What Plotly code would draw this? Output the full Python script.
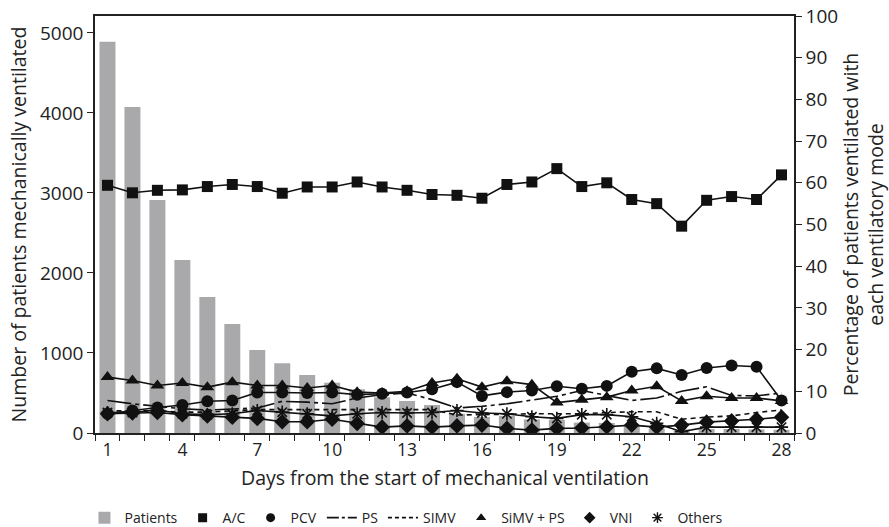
import plotly.graph_objects as go

days = list(range(1, 29))
patients = [4890, 4075, 2912, 2162, 1700, 1362, 1037, 871, 725, 629, 546, 446, 400, 350,
            240, 200, 215, 170, 165, 130, 125, 95, 55, 45, 50, 50, 45, 40]
ac = [59.4, 57.6, 58.2, 58.3, 59.1, 59.6, 59.1, 57.5, 59.0, 59.0, 60.2, 59.0, 58.2, 57.2,
      57.0, 56.3, 59.6, 60.2, 63.4, 59.1, 60.0, 56.0, 55.0, 49.6, 55.8, 56.7, 56.0, 61.9]
pcv = [4.6, 5.4, 6.1, 6.7, 7.6, 7.8, 9.7, 9.7, 9.6, 9.7, 9.2, 9.4, 9.7, 10.5,
       12.2, 8.9, 9.8, 10.2, 11.2, 10.6, 11.3, 14.7, 15.5, 13.9, 15.6, 16.2, 15.9, 7.8]
ps = [7.8, 7.0, 6.4, 5.8, 5.5, 5.7, 6.0, 7.6, 7.4, 7.0, 8.4, 9.2, 9.6, 8.0,
      6.0, 6.4, 7.0, 7.9, 8.8, 10.2, 9.0, 7.8, 8.4, 10.0, 11.1, 9.0, 8.9, 9.6]
simv = [5.3, 5.3, 5.3, 5.0, 5.0, 5.3, 5.6, 5.6, 5.6, 5.7, 5.6, 5.6, 5.6, 5.6,
        4.3, 4.4, 4.6, 4.6, 4.6, 4.6, 4.9, 5.1, 5.1, 3.3, 3.8, 4.1, 4.9, 5.55]
simv_ps = [13.4, 12.6, 11.4, 12.0, 11.0, 12.2, 11.4, 11.4, 10.8, 11.4, 9.8, 9.6, 10.0, 12.0,
           13.0, 11.0, 12.4, 11.6, 7.3, 8.0, 8.6, 10.2, 11.2, 7.7, 8.8, 8.4, 8.4, 7.7]
vni = [4.6, 4.8, 4.9, 4.4, 4.1, 3.8, 3.5, 2.7, 2.7, 3.3, 2.3, 1.4, 1.7, 1.4,
       1.7, 1.9, 1.1, 0.7, 1.1, 1.2, 1.5, 1.9, 1.4, 1.9, 2.6, 2.9, 3.3, 3.8]
others = [4.9, 4.9, 5.5, 4.6, 4.4, 4.6, 5.4, 5.0, 4.6, 4.1, 4.6, 4.9, 4.8, 4.9,
          5.4, 4.8, 4.6, 3.9, 3.5, 4.4, 4.4, 3.9, 2.3, 0.3, 1.4, 1.4, 1.4, 1.4]
xtick_labels = [1, 4, 7, 10, 13, 16, 19, 22, 25, 28]
x_title = "Days from the start of mechanical ventilation"

BLACK = "#111111"
GRAY = "#a9a9ab"
FONT = "Open Sans"

fig = go.Figure()
fig.add_trace(go.Bar(x=days, y=patients, marker=dict(color=GRAY, line=dict(width=0)),
                     width=0.64, name="Patients", yaxis="y"))

def add_line(vals, name, symbol, size, dash="solid", markers=True):
    fig.add_trace(go.Scatter(
        x=days, y=vals, yaxis="y2", name=name, showlegend=False,
        mode="lines+markers" if markers else "lines",
        line=dict(color=BLACK, width=1.6, dash=dash),
        marker=dict(symbol=symbol, size=size, color=BLACK,
                    line=dict(color=BLACK, width=1.6 if "open" in str(symbol) else 0)),
    ))

add_line(ps, "PS", None, 0, dash="24px,4px,4px,4px", markers=False)
add_line(simv, "SIMV", None, 0, dash="5px,4px", markers=False)
add_line(others, "Others", "asterisk-open", 11)
add_line(vni, "VNI", "diamond", 12)
add_line(pcv, "PCV", "circle", 12)
add_line(simv_ps, "SiMV + PS", "triangle-up", 12)
add_line(ac, "A/C", "square", 11)

# legend-only entries (marker samples / line samples)
def legend_entry(name, symbol=None, dash=None):
    if symbol:
        fig.add_trace(go.Scatter(x=[None], y=[None], yaxis="y2", name=name, mode="markers",
                                 marker=dict(symbol=symbol, size=9, color=BLACK,
                                             line=dict(color=BLACK, width=1.4 if "open" in symbol else 0))))
    else:
        fig.add_trace(go.Scatter(x=[None], y=[None], yaxis="y2", name=name, mode="lines",
                                 line=dict(color=BLACK, width=1.6, dash=dash)))

legend_entry("A/C", "square")
legend_entry("PCV", "circle")
legend_entry("PS", dash="12px,3px,3px,3px")
legend_entry("SIMV", dash="4px,3px")
legend_entry("SiMV + PS", "triangle-up")
legend_entry("VNI", "diamond")
legend_entry("Others", "asterisk-open")

fig.add_annotation(text=x_title, xref="paper", yref="paper", x=0.5, y=-0.107,
                   xanchor="center", yanchor="middle", showarrow=False,
                   font=dict(size=19.5, family=FONT, color="#222"))

fig.update_layout(
    width=889, height=527,
    margin=dict(l=95, r=95, t=16, b=94),
    paper_bgcolor="white", plot_bgcolor="white",
    font=dict(family=FONT, size=18, color="#222"),
    showlegend=True,
    legend=dict(orientation="h", x=0.095, xref="container", xanchor="left",
                y=0.017, yref="container", yanchor="middle",
                font=dict(size=14, color="#222"), traceorder="normal",
                itemwidth=30, tracegroupgap=0),
    xaxis=dict(range=[0.5, 28.5], tickvals=xtick_labels, ticktext=[str(v) for v in xtick_labels],
               ticks="", showgrid=False, zeroline=False, automargin=False,
               showline=True, linecolor="#222", linewidth=1.5, mirror=True,
               tickfont=dict(size=17.5),
               minor=dict(tick0=0.5, dtick=1, ticks="outside", ticklen=6, tickcolor="#222",
                          tickwidth=1.2, showgrid=False)),
    yaxis=dict(range=[0, 5212], tickvals=[0, 1000, 2000, 3000, 4000, 5000],
               ticks="outside", ticklen=6, tickcolor="#222", tickwidth=1.2, automargin=False,
               showgrid=False, zeroline=False, showline=True, linecolor="#222", linewidth=1.5,
               tickfont=dict(size=19),
               title=dict(text="Number of patients mechanically ventilated", font=dict(size=19.5),
                          standoff=8)),
    yaxis2=dict(range=[0, 100], dtick=10, overlaying="y", side="right", automargin=False,
                ticks="outside", ticklen=6, tickcolor="#222", tickwidth=1.2,
                showgrid=False, zeroline=False, showline=True, linecolor="#222", linewidth=1.5,
                tickfont=dict(size=19),
                title=dict(text="Percentage of patients ventilated with<br>each ventilatory mode",
                           font=dict(size=19.5), standoff=14)),
)

fig.write_html("out.html")
